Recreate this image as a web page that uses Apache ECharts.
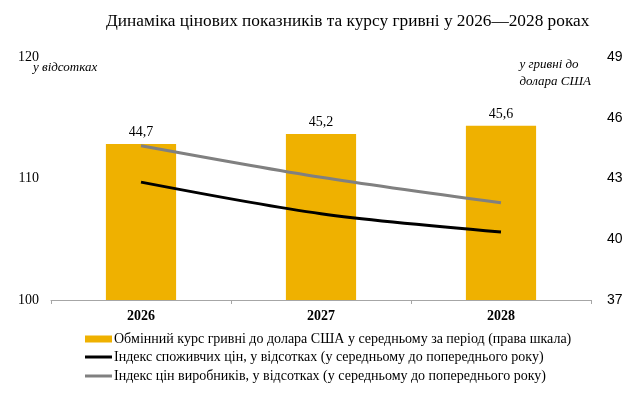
<!DOCTYPE html>
<html>
<head>
<meta charset="utf-8">
<script src="https://cdn.jsdelivr.net/npm/echarts@6/dist/echarts.min.js"></script>
<style>
  html, body { margin: 0; padding: 0; background: #fff; }
  #chart { width: 640px; height: 399px; }
</style>
</head>
<body>
<div id="chart"></div>
<script>
  const years = ["2026", "2027", "2028"];
  const exchangeRate = [44.7, 45.2, 45.6];
  const cpi = [109.7, 107.1, 105.6];
  const ppi = [112.7, 110.1, 108.0];

  const leftTicks = { min: 100, max: 120, interval: 10 };
  const rightTicks = { min: 37, max: 49, interval: 3 };

  const rateName = "Обмінний курс гривні до долара США у середньому за період (права шкала)";
  const cpiName = "Індекс споживчих цін, у відсотках (у середньому до попереднього року)";
  const ppiName = "Індекс цін виробників, у відсотках (у середньому до попереднього року)";

  const serif = "Liberation Serif";
  const chart = echarts.init(document.getElementById("chart"));

  // one legend per row so each icon can have its own height
  function legendRow(name, top, h) {
    return {
      orient: "vertical",
      left: 80,
      top: top,
      itemWidth: 27,
      itemHeight: h,
      icon: "rect",
      textStyle: { fontFamily: serif, fontSize: 14, color: "#000", padding: [0, 0, 0, -3] },
      data: [name]
    };
  }

  chart.setOption({
    animation: false,
    title: {
      text: "Динаміка цінових показників та курсу гривні у 2026—2028 роках",
      left: 101,
      top: 8,
      textStyle: { fontFamily: serif, fontSize: 17.3, fontWeight: "normal", color: "#000" }
    },
    grid: { top: 57, bottom: 99, left: 51, right: 49 },
    legend: [
      legendRow(rateName, 327, 7),
      legendRow(cpiName, 345, 3),
      legendRow(ppiName, 364, 3)
    ],
    graphic: [
      {
        type: "text", left: 33, top: 61,
        style: { text: "у відсотках", font: "italic 13px " + serif, fill: "#000" }
      },
      {
        type: "text", right: 49, top: 56,
        style: { text: "у гривні до\nдолара США", font: "italic 13px " + serif, fill: "#000", align: "right", lineHeight: 17 }
      }
    ],
    xAxis: {
      type: "category",
      data: years,
      axisLine: { lineStyle: { color: "#a6a6a6", width: 1 } },
      axisTick: { show: true, length: 4, lineStyle: { color: "#a6a6a6" } },
      axisLabel: { fontFamily: serif, fontSize: 14, fontWeight: "bold", color: "#000", margin: 9 }
    },
    yAxis: [
      {
        type: "value",
        min: leftTicks.min, max: leftTicks.max, interval: leftTicks.interval,
        splitLine: { show: false },
        axisLine: { show: false },
        axisTick: { show: false },
        axisLabel: { fontFamily: serif, fontSize: 14, color: "#000", margin: 12 }
      },
      {
        type: "value",
        min: rightTicks.min, max: rightTicks.max, interval: rightTicks.interval,
        splitLine: { show: false },
        axisLine: { show: false },
        axisTick: { show: false },
        axisLabel: { fontFamily: "Liberation Sans", fontSize: 14, color: "#000", margin: 16 }
      }
    ],
    series: [
      {
        name: rateName,
        type: "bar",
        yAxisIndex: 1,
        data: exchangeRate,
        barWidth: "39%",
        itemStyle: { color: "#efb100" },
        label: {
          show: true,
          position: "top",
          distance: 5,
          fontFamily: serif,
          fontSize: 14,
          color: "#000",
          formatter: p => String(p.value).replace(".", ",")
        }
      },
      {
        name: cpiName,
        type: "line",
        data: cpi,
        smooth: 0.3,
        symbol: "none",
        lineStyle: { color: "#000", width: 3 },
        itemStyle: { color: "#000" }
      },
      {
        name: ppiName,
        type: "line",
        data: ppi,
        smooth: 0.3,
        symbol: "none",
        lineStyle: { color: "#808080", width: 3 },
        itemStyle: { color: "#808080" }
      }
    ]
  });
</script>
</body>
</html>
